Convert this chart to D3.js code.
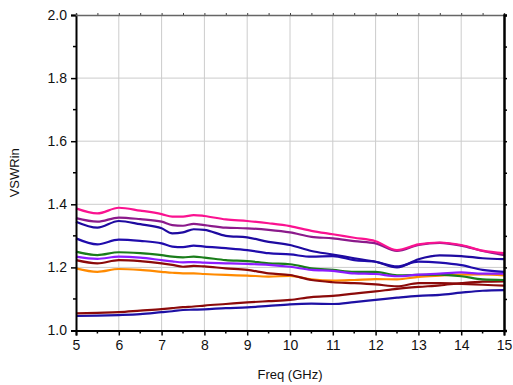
<!DOCTYPE html>
<html><head><meta charset="utf-8">
<script src="https://cdn.jsdelivr.net/npm/d3@7"></script>
<style>body{margin:0;background:#fff}svg{display:block}</style>
</head><body>
<svg id="c" width="513" height="385"></svg>
<script>
const freq = [5,5.5,6,6.5,7,7.25,7.5,7.75,8,8.5,9,9.5,10,10.5,11,11.5,12,12.5,13,13.5,14,14.5,15];
const navy2   = [1.046,1.047,1.049,1.052,1.058,1.061,1.065,1.066,1.067,1.071,1.073,1.078,1.083,1.085,1.084,1.090,1.097,1.104,1.110,1.113,1.120,1.126,1.128];
const darkRed2= [1.054,1.056,1.058,1.063,1.068,1.071,1.074,1.076,1.079,1.084,1.089,1.093,1.097,1.106,1.110,1.117,1.124,1.132,1.138,1.143,1.150,1.155,1.156];
const orange  = [1.197,1.186,1.195,1.192,1.186,1.183,1.181,1.181,1.179,1.176,1.174,1.171,1.173,1.162,1.158,1.160,1.163,1.162,1.170,1.174,1.177,1.178,1.175];
const darkRed1= [1.223,1.213,1.223,1.220,1.213,1.208,1.202,1.205,1.203,1.197,1.192,1.181,1.176,1.160,1.153,1.150,1.146,1.140,1.150,1.150,1.148,1.145,1.142];
const green   = [1.250,1.239,1.248,1.245,1.239,1.234,1.232,1.234,1.231,1.223,1.220,1.213,1.210,1.197,1.192,1.186,1.186,1.175,1.176,1.177,1.172,1.162,1.160];
const violet  = [1.234,1.227,1.234,1.231,1.223,1.219,1.216,1.217,1.215,1.213,1.211,1.208,1.202,1.192,1.189,1.181,1.179,1.172,1.177,1.180,1.184,1.180,1.180];
const blue2   = [1.292,1.273,1.288,1.284,1.276,1.266,1.264,1.269,1.266,1.261,1.255,1.245,1.241,1.234,1.236,1.223,1.218,1.203,1.218,1.215,1.207,1.192,1.186];
const darkBlue= [1.345,1.326,1.347,1.337,1.324,1.308,1.311,1.321,1.319,1.300,1.295,1.281,1.271,1.252,1.241,1.229,1.218,1.200,1.226,1.238,1.236,1.229,1.226];
const purple  = [1.356,1.345,1.358,1.353,1.345,1.334,1.332,1.338,1.334,1.326,1.324,1.319,1.311,1.297,1.292,1.283,1.276,1.252,1.271,1.278,1.269,1.252,1.239];
const pink    = [1.387,1.371,1.389,1.380,1.369,1.361,1.361,1.366,1.363,1.352,1.347,1.340,1.331,1.316,1.305,1.294,1.283,1.255,1.273,1.279,1.271,1.253,1.245];

const seriesList = [navy2, darkRed2, orange, darkRed1, green, violet, blue2, darkBlue, purple, pink];
const seriesColors = ["#1e10a4","#8b0a0a","#ff8a00","#8b0a0a","#1a7d1a","#8c1cff","#200cac","#1e0aa0","#8b1a8b","#fa1290"];
const xTicks = [5,6,7,8,9,10,11,12,13,14,15];
const yTicks = [1.0,1.2,1.4,1.6,1.8,2.0];

const L=76, R=504, T=15, B=330.5;
const x = d3.scaleLinear().domain([5,15]).range([L,R]);
const y = d3.scaleLinear().domain([1,2]).range([B,T]);
const svg = d3.select("#c");
const font = "'Liberation Sans', Arial, sans-serif";

// grid
svg.append("g").selectAll("line").data(xTicks.slice(1,-1)).join("line")
  .attr("x1",d=>x(d)).attr("x2",d=>x(d)).attr("y1",T).attr("y2",B)
  .attr("stroke","#cccccc").attr("stroke-width",1);
svg.append("g").selectAll("line").data(yTicks.slice(1,-1)).join("line")
  .attr("y1",d=>y(d)).attr("y2",d=>y(d)).attr("x1",L).attr("x2",R)
  .attr("stroke","#cccccc").attr("stroke-width",1);

// lines
const line = d3.line().x((d,i)=>x(freq[i])).y(d=>y(d)).curve(d3.curveMonotoneX);
svg.append("g").selectAll("path").data(seriesList).join("path")
  .attr("d",d=>line(d)).attr("fill","none")
  .attr("stroke",(d,i)=>seriesColors[i]).attr("stroke-width",2.2)
  .attr("stroke-linejoin","round");

// axes
const xMinor = d3.range(5.5,15,1);
const yMinor = d3.range(1.1,2.0,0.2);
const gBottom = svg.append("g").attr("transform",`translate(0,${B})`)
  .call(d3.axisBottom(x).tickValues(xTicks).tickFormat(d3.format("d")).tickSize(5).tickPadding(5));
const gLeft = svg.append("g").attr("transform",`translate(${L},0)`)
  .call(d3.axisLeft(y).tickValues(yTicks).tickFormat(d3.format(".1f")).tickSize(5).tickPadding(4));
const gTop = svg.append("g").attr("transform",`translate(0,${T})`)
  .call(d3.axisTop(x).tickValues(d3.range(5,15.01,0.5)).tickFormat("").tickSize(2));
const gRight = svg.append("g").attr("transform",`translate(${R},0)`)
  .call(d3.axisRight(y).tickValues(d3.range(1,2.001,0.1)).tickFormat("").tickSize(3));
[gBottom,gLeft].forEach(g=>{
  g.selectAll("text").attr("font-family",font).attr("font-size",14).attr("fill","#111");
  g.select(".domain").attr("stroke","#000").attr("stroke-width",2);
  g.selectAll(".tick line").attr("stroke","#000").attr("stroke-width",1.5);
});
gTop.select(".domain").attr("stroke","#666").attr("stroke-width",1.5);
gTop.selectAll(".tick line").attr("stroke","#444");
gRight.select(".domain").attr("stroke","#000").attr("stroke-width",2.5);
gRight.selectAll(".tick line").attr("stroke","#000").attr("stroke-width",1.5);
// minor ticks
svg.append("g").selectAll("line").data(xMinor).join("line")
  .attr("x1",d=>x(d)).attr("x2",d=>x(d)).attr("y1",B).attr("y2",B+3)
  .attr("stroke","#000").attr("stroke-width",1.5);
svg.append("g").selectAll("line").data(yMinor).join("line")
  .attr("y1",d=>y(d)).attr("y2",d=>y(d)).attr("x1",L).attr("x2",L-3)
  .attr("stroke","#000").attr("stroke-width",1.5);

// labels
svg.append("text").attr("x",(L+R)/2).attr("y",379).attr("text-anchor","middle")
  .attr("font-family",font).attr("font-size",13).attr("fill","#111").text("Freq (GHz)");
svg.append("text").attr("transform",`translate(19,${(T+B)/2}) rotate(-90)`).attr("text-anchor","middle")
  .attr("font-family",font).attr("font-size",13).attr("fill","#111").text("VSWRin");
</script>
</body></html>
